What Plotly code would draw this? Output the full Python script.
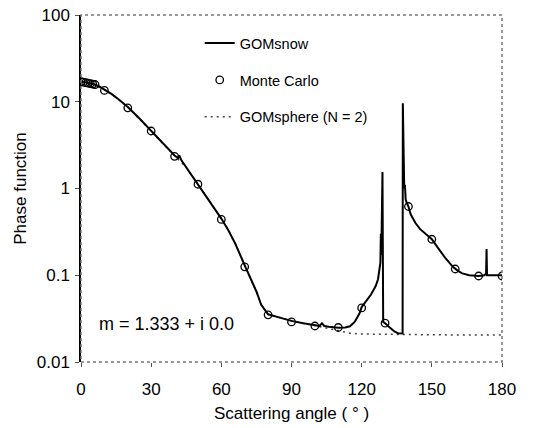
import plotly.graph_objects as go

# GOMsnow phase function
snow_angle = [0, 2, 4, 6, 8, 10, 13, 16, 20, 25, 30, 35, 40, 41.5, 42, 43, 45, 50, 55, 60,
              63, 66, 70, 73, 75, 77, 79, 80, 85, 90, 95, 100, 102, 103, 104, 106, 110, 113,
              115, 117, 119, 120, 122, 124, 126, 127, 128, 128.2, 128.4, 128.9, 129.2, 130,
              132, 134, 135.5, 137.5, 137.6, 137.9, 138.2, 138.5, 138.8, 139.3, 140, 141,
              143, 145, 148, 150, 153, 156, 159, 161, 163, 166, 170, 172.5, 173.2, 173.4,
              173.6, 175, 180]
snow_value = [17, 16.8, 16.3, 15.7, 14.9, 13.8, 12.3, 10.7, 8.7, 6.4, 4.6, 3.3, 2.4, 2.25,
              2.4, 2.1, 1.75, 1.12, 0.72, 0.45, 0.33, 0.23, 0.13, 0.085, 0.065, 0.046, 0.038,
              0.0355, 0.0325, 0.0298, 0.028, 0.0265, 0.026, 0.028, 0.026, 0.0255, 0.0248,
              0.025, 0.0258, 0.029, 0.036, 0.043, 0.05, 0.06, 0.075, 0.09, 0.14, 0.3, 0.17,
              1.55, 0.029, 0.028, 0.025, 0.0225, 0.0215, 0.0213, 9.6, 1.2, 1.0, 1.1, 0.75,
              0.68, 0.62, 0.5, 0.4, 0.34, 0.29, 0.26, 0.2, 0.155, 0.125, 0.113, 0.105, 0.1,
              0.098, 0.1, 0.105, 0.2, 0.1, 0.1, 0.1]

# Monte Carlo
mc_angle = [0, 1, 2, 3, 4, 5, 6, 10, 20, 30, 40, 50, 60, 70, 80, 90, 100, 110, 120, 130,
            140, 150, 160, 170, 180]
mc_value = [17, 16.8, 16.6, 16.4, 16.2, 16.0, 15.8, 13.5, 8.5, 4.6, 2.35, 1.12, 0.44, 0.125,
            0.035, 0.029, 0.026, 0.025, 0.042, 0.028, 0.62, 0.26, 0.118, 0.098, 0.098]

# GOMsphere (N = 2)
sph_angle = [0, 5, 10, 15, 20, 25, 30, 35, 40, 45, 50, 55, 60, 63, 66, 70, 73, 75, 77, 79,
             80, 85, 90, 95, 100, 105, 110, 115, 120, 130, 140, 150, 160, 170, 180]
sph_value = [17, 16, 13.8, 11.3, 8.7, 6.4, 4.6, 3.3, 2.4, 1.75, 1.12, 0.72, 0.45, 0.33, 0.23,
             0.13, 0.085, 0.065, 0.046, 0.038, 0.0355, 0.0325, 0.0298, 0.028, 0.0262, 0.0245,
             0.0228, 0.0215, 0.021, 0.0208, 0.0207, 0.0206, 0.0205, 0.0205, 0.0205]

x_ticks = [0, 30, 60, 90, 120, 150, 180]
y_ticks = [0.01, 0.1, 1, 10, 100]
y_ticklabels = ["0.01", "0.1", "1", "10", "100"]

FONT = "Liberation Sans, Arial, sans-serif"

fig = go.Figure()
fig.add_trace(go.Scatter(
    x=sph_angle, y=sph_value, mode="lines", name="GOMsphere (N = 2)",
    line=dict(color="#444444", width=1.5, dash="2px,4px"),
    legendgroup="c", legendrank=3))
fig.add_trace(go.Scatter(
    x=snow_angle, y=snow_value, mode="lines", name="GOMsnow",
    line=dict(color="black", width=2),
    legendgroup="a", legendrank=1))
fig.add_trace(go.Scatter(
    x=mc_angle, y=mc_value, mode="markers", name="Monte Carlo",
    marker=dict(symbol="circle-open", size=7.5, color="black", line=dict(width=1.3)),
    legendgroup="b", legendrank=2))

fig.update_layout(
    width=539, height=428,
    margin=dict(l=81, r=37, t=15, b=66, autoexpand=False),
    paper_bgcolor="white", plot_bgcolor="white",
    font=dict(family=FONT, color="black"),
    showlegend=True,
    legend=dict(x=0.282, y=0.965, xanchor="left", yanchor="top",
                bgcolor="rgba(0,0,0,0)", font=dict(size=14.5, family=FONT),
                traceorder="grouped", tracegroupgap=15),
    xaxis=dict(range=[0, 180], tickvals=x_ticks, ticks="outside", ticklen=4,
               tickcolor="#555", showgrid=False, zeroline=False, showline=False,
               automargin=False,
               tickfont=dict(size=17), ticklabelstandoff=8,
               title=dict(text="Scattering angle ( ° )", font=dict(size=17), standoff=8)),
    yaxis=dict(type="log", range=[-2, 2], tickvals=y_ticks, ticktext=y_ticklabels,
               ticks="outside", ticklen=4, tickcolor="#555", showgrid=False,
               zeroline=False, showline=True, linecolor="black", linewidth=1.5,
               automargin=False,
               tickfont=dict(size=17), ticklabelstandoff=2,
               title=dict(text="Phase function", font=dict(size=17), standoff=6)),
    shapes=[dict(type="rect", xref="paper", yref="paper", x0=0, y0=0, x1=1, y1=1,
                 line=dict(color="#777", width=1.5, dash="dot"), layer="above")],
    annotations=[dict(text="m = 1.333 + i 0.0", xref="paper", yref="paper",
                      x=0.038, y=0.11, xanchor="left", yanchor="middle",
                      showarrow=False, font=dict(size=18, family=FONT))],
)

fig.write_html("out.html")
